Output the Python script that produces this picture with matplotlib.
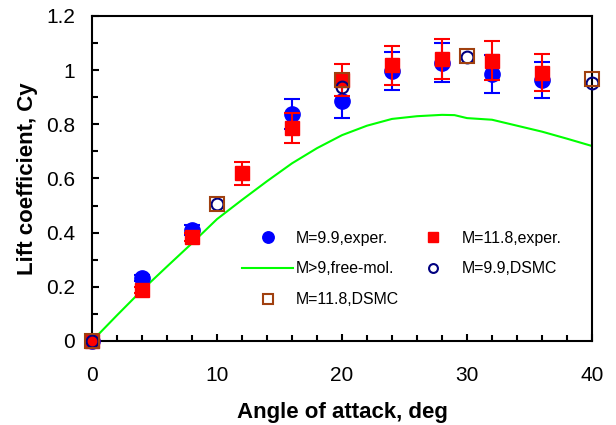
import matplotlib
matplotlib.use('Agg')
import matplotlib.pyplot as plt
from matplotlib.ticker import MultipleLocator, FormatStrFormatter

plt.rcParams['font.family'] = ['Liberation Sans', 'DejaVu Sans']

# M=9.9 experiment
alpha_99 = [0, 4, 8, 16, 20, 24, 28, 32, 36]
cy_99 = [0.0, 0.232, 0.41, 0.837, 0.886, 0.997, 1.027, 0.987, 0.964]
err_99 = [0.0, 0.01, 0.02, 0.055, 0.063, 0.07, 0.072, 0.07, 0.066]

# M=11.8 experiment
alpha_118 = [0, 4, 8, 12, 16, 20, 24, 28, 32, 36]
cy_118 = [0.0, 0.188, 0.383, 0.619, 0.785, 0.964, 1.019, 1.041, 1.035, 0.991]
err_118 = [0.0, 0.01, 0.015, 0.042, 0.055, 0.06, 0.072, 0.074, 0.072, 0.068]

# free-molecular theory
alpha_fm = [0, 2, 4, 6, 8, 10, 12, 14, 16, 18, 20, 22, 24, 26, 28, 29, 30,
            32, 34, 36, 38, 40]
cy_fm = [0.0, 0.095, 0.188, 0.275, 0.361, 0.45, 0.521, 0.59, 0.656, 0.712,
         0.76, 0.795, 0.82, 0.83, 0.835, 0.834, 0.823, 0.817, 0.795, 0.773,
         0.747, 0.72]

# DSMC
alpha_dsmc = [0, 10, 20, 30, 40]
cy_dsmc_99 = [0.0, 0.507, 0.937, 1.048, 0.952]
cy_dsmc_118 = [0.0, 0.505, 0.964, 1.052, 0.967]

fig = plt.figure(figsize=(6.16, 4.25), dpi=100)
ax = fig.add_axes([92 / 616, 84 / 425, 500 / 616, 325 / 425])

h1 = ax.errorbar(alpha_99, cy_99, yerr=err_99, fmt='o', color='#0000FF',
                 ms=11, capsize=6, elinewidth=1.5, capthick=1.5,
                 clip_on=False, zorder=3)
h2 = ax.errorbar(alpha_118, cy_118, yerr=err_118, fmt='s', color='#FF0000',
                 ms=10, capsize=6, elinewidth=1.5, capthick=1.5,
                 clip_on=False, zorder=4)
h3, = ax.plot(alpha_fm, cy_fm, color='#00FF00', lw=1.5, zorder=2)
h4, = ax.plot(alpha_dsmc, cy_dsmc_99, 'o', mfc='none', mec='#000080', mew=1.5,
              ms=8.5, clip_on=False, zorder=5)
h5, = ax.plot(alpha_dsmc, cy_dsmc_118, 's', mfc='none', mec='#A0400F', mew=1.5,
              ms=9.5, clip_on=False, zorder=6)

ax.set_xlim(0, 40)
ax.set_ylim(0, 1.2)
ax.xaxis.set_major_locator(MultipleLocator(10))
ax.xaxis.set_minor_locator(MultipleLocator(2))
ax.yaxis.set_major_locator(MultipleLocator(0.2))
ax.yaxis.set_minor_locator(MultipleLocator(0.1))
ax.yaxis.set_major_formatter(FormatStrFormatter('%g'))
ax.tick_params(which='both', direction='in', top=False, right=False,
               width=1.5, labelsize=15)
ax.tick_params(which='major', length=5)
ax.tick_params(which='minor', length=4)
ax.tick_params(axis='x', which='major', pad=18)
ax.tick_params(axis='y', which='major', pad=12)
for sp in ax.spines.values():
    sp.set_linewidth(1.5)

ax.set_xlabel('Angle of attack, deg', fontsize=16, fontweight='bold', labelpad=12)
ax.set_ylabel('Lift coefficient, Cy', fontsize=16, fontweight='bold', labelpad=6)

leg = ax.legend([h1[0], h3, h5, h2[0], h4],
                ['M=9.9,exper.', 'M>9,free-mol.', 'M=11.8,DSMC',
                 'M=11.8,exper.', 'M=9.9,DSMC'],
                ncol=2, frameon=False, fontsize=11.4, handlelength=3.26,
                handletextpad=0.17, labelspacing=1.0, columnspacing=0.5,
                loc='upper left', bbox_to_anchor=(0.2994, 0.34), borderpad=0,
                borderaxespad=0, markerscale=0.75)

fig.savefig('out.png', dpi=100)
